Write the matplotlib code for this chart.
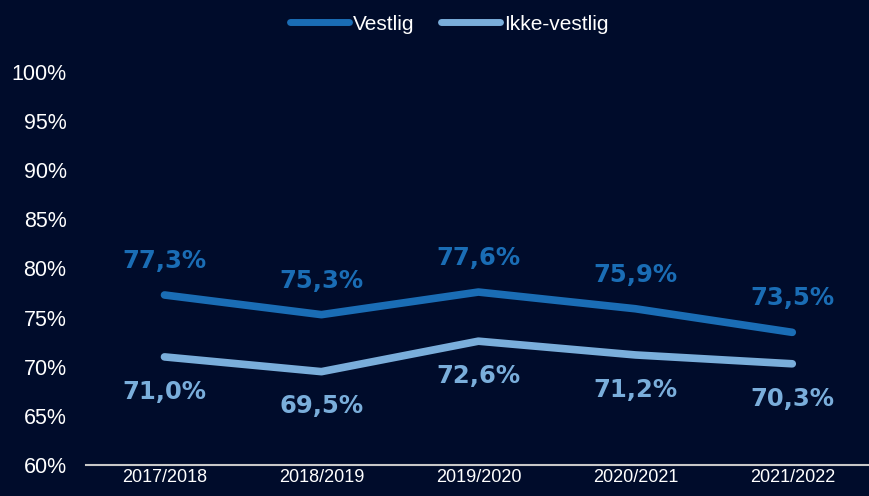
import matplotlib.pyplot as plt
from matplotlib.ticker import FuncFormatter

years = ["2017/2018", "2018/2019", "2019/2020", "2020/2021", "2021/2022"]
vestlig = [77.3, 75.3, 77.6, 75.9, 73.5]
ikke_vestlig = [71.0, 69.5, 72.6, 71.2, 70.3]

bg = "#000c2b"
dark = "#1a6db5"
light = "#7aaedb"

plt.rcParams['font.family'] = ['Liberation Sans', 'DejaVu Sans']

fig = plt.figure(figsize=(8.69, 4.96), dpi=100, facecolor=bg)
ax = fig.add_axes([0.099, 0.0625, 0.903, 0.7925], facecolor=bg)

x = list(range(len(years)))
ax.plot(x, vestlig, color=dark, lw=5.5, solid_capstyle='round', label="Vestlig")
ax.plot(x, ikke_vestlig, color=light, lw=5.5, solid_capstyle='round', label="Ikke-vestlig")

def fmt(v):
    return f"{v:.1f}%".replace(".", ",")

for xi, v in zip(x, vestlig):
    ax.annotate(fmt(v), (xi, v), xytext=(0, 24.5), textcoords='offset points',
                ha='center', va='center', color=dark, fontsize=17.5,
                fontweight='bold', family=['DejaVu Sans'])
for xi, v in zip(x, ikke_vestlig):
    ax.annotate(fmt(v), (xi, v), xytext=(0, -25), textcoords='offset points',
                ha='center', va='center', color=light, fontsize=17.5,
                fontweight='bold', family=['DejaVu Sans'])

ax.set_xlim(-0.5, 4.5)
ax.set_ylim(60, 100)
ax.set_yticks(range(60, 101, 5))
ax.yaxis.set_major_formatter(FuncFormatter(lambda v, p: f"{v:.0f}%"))
ax.set_xticks(x)
ax.set_xticklabels(years)
ax.tick_params(axis='y', colors='white', labelsize=15.5, length=0, pad=14)
ax.tick_params(axis='x', colors='white', labelsize=13, length=0, pad=3)

for s in ['top', 'right', 'left']:
    ax.spines[s].set_visible(False)
ax.spines['bottom'].set_color('#c8c8c8')
ax.spines['bottom'].set_linewidth(1.5)

leg = fig.legend(loc='upper center', bbox_to_anchor=(0.517, 1.008), ncol=2,
                 frameon=False, fontsize=15, handlelength=2.8,
                 handletextpad=0.2, columnspacing=1.3)
for t in leg.get_texts():
    t.set_color('white')
for h in leg.get_lines():
    h.set_linewidth(5)

fig.savefig("out.png", dpi=100, facecolor=bg)
